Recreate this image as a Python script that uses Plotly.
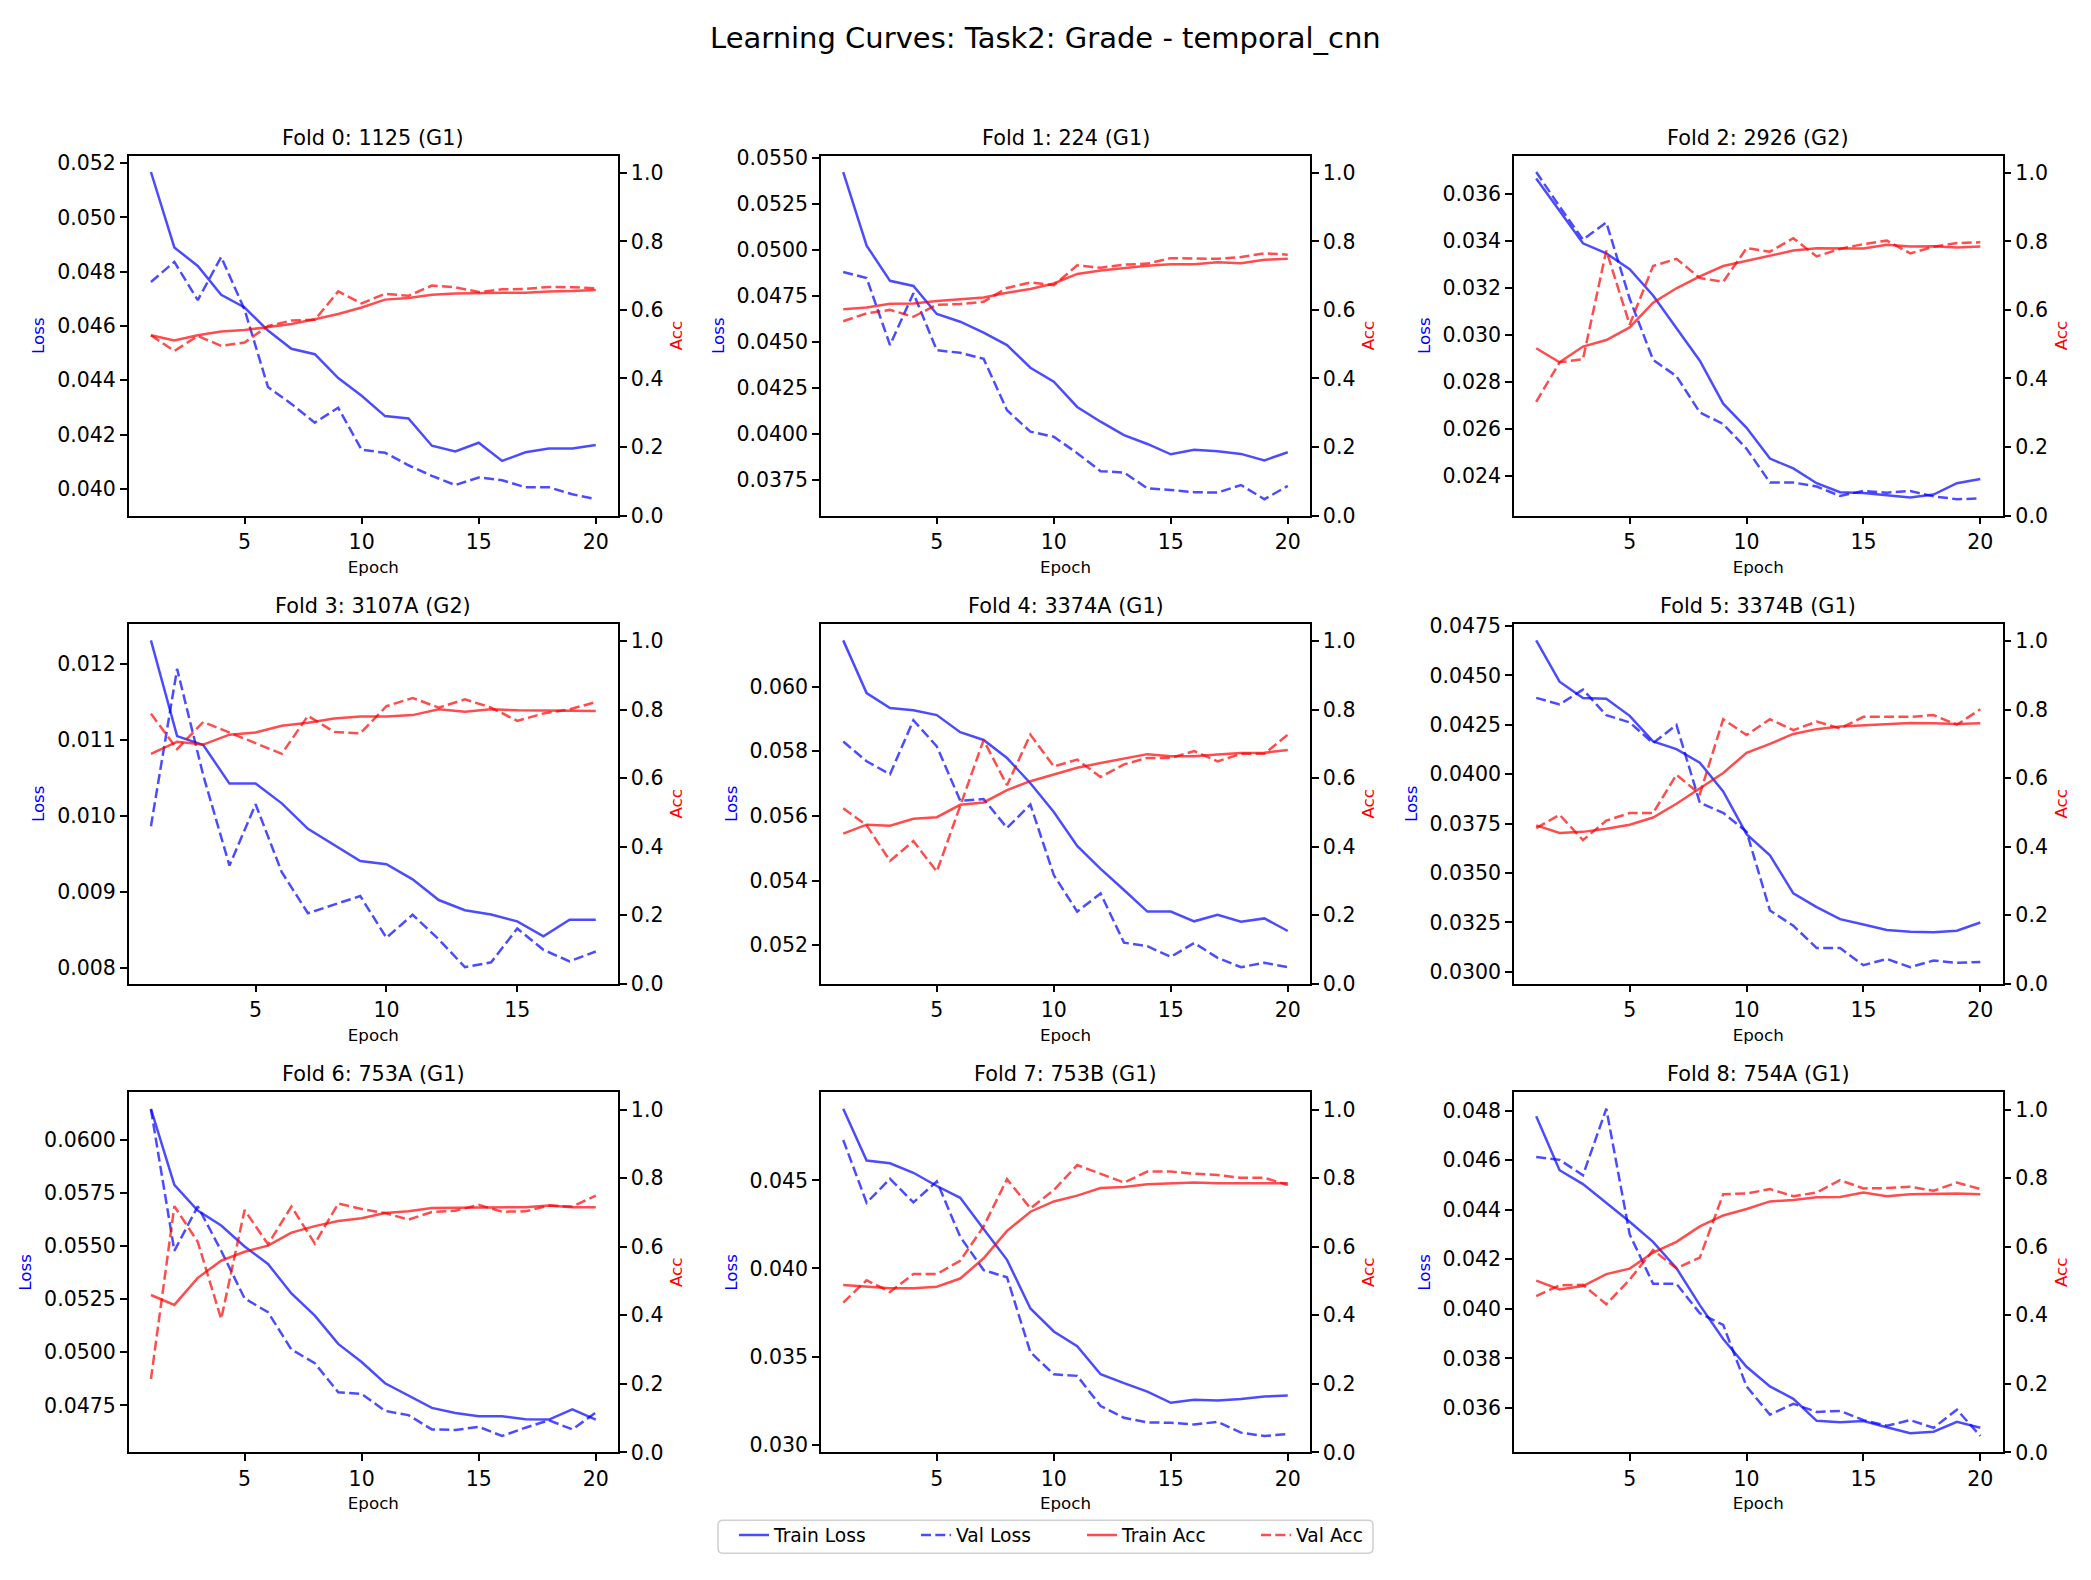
import plotly.graph_objects as go

# ---------------- data ----------------
fold_titles = ["Fold 0: 1125 (G1)", "Fold 1: 224 (G1)", "Fold 2: 2926 (G2)",
               "Fold 3: 3107A (G2)", "Fold 4: 3374A (G1)", "Fold 5: 3374B (G1)",
               "Fold 6: 753A (G1)", "Fold 7: 753B (G1)", "Fold 8: 754A (G1)"]

f0_train_loss = [0.05167, 0.04889, 0.04821, 0.04715, 0.04668, 0.04583, 0.04516, 0.04496, 0.04408, 0.04343,
                 0.04268, 0.04259, 0.04159, 0.04138, 0.04170, 0.04103, 0.04135, 0.04149, 0.04149, 0.04162]
f0_val_loss = [0.04762, 0.04836, 0.04695, 0.04854, 0.04660, 0.04375, 0.04313, 0.04244, 0.04299, 0.04144,
               0.04133, 0.04087, 0.04048, 0.04014, 0.04042, 0.04032, 0.04006, 0.04006, 0.03980, 0.03962]
f0_train_acc = [0.526, 0.511, 0.526, 0.537, 0.541, 0.551, 0.559, 0.573, 0.588, 0.607,
                0.630, 0.635, 0.644, 0.648, 0.650, 0.650, 0.650, 0.654, 0.655, 0.658]
f0_val_acc = [0.526, 0.480, 0.524, 0.495, 0.505, 0.553, 0.569, 0.571, 0.654, 0.619,
              0.647, 0.641, 0.671, 0.666, 0.652, 0.660, 0.661, 0.667, 0.666, 0.663]

f1_train_loss = [0.05423, 0.05023, 0.04832, 0.04804, 0.04652, 0.04610, 0.04551, 0.04483, 0.04360, 0.04284,
                 0.04147, 0.04067, 0.03994, 0.03946, 0.03890, 0.03914, 0.03906, 0.03892, 0.03857, 0.03901]
f1_val_loss = [0.04880, 0.04847, 0.04483, 0.04765, 0.04455, 0.04441, 0.04409, 0.04129, 0.04013, 0.03985,
               0.03896, 0.03798, 0.03791, 0.03705, 0.03696, 0.03684, 0.03682, 0.03723, 0.03646, 0.03718]
f1_train_acc = [0.602, 0.607, 0.618, 0.619, 0.626, 0.632, 0.636, 0.650, 0.661, 0.677,
                0.705, 0.715, 0.722, 0.729, 0.733, 0.733, 0.739, 0.736, 0.746, 0.749]
f1_val_acc = [0.567, 0.590, 0.600, 0.580, 0.615, 0.617, 0.624, 0.664, 0.680, 0.672,
              0.730, 0.723, 0.732, 0.735, 0.751, 0.749, 0.749, 0.754, 0.765, 0.761]

f2_train_loss = [0.03666, 0.03526, 0.03390, 0.03347, 0.03280, 0.03168, 0.03027, 0.02890, 0.02707, 0.02604,
                 0.02473, 0.02431, 0.02368, 0.02330, 0.02326, 0.02316, 0.02307, 0.02320, 0.02368, 0.02386]
f2_val_loss = [0.03694, 0.03547, 0.03406, 0.03479, 0.03154, 0.02894, 0.02824, 0.02670, 0.02620, 0.02515,
               0.02371, 0.02371, 0.02354, 0.02314, 0.02335, 0.02328, 0.02335, 0.02312, 0.02300, 0.02303]
f2_train_acc = [0.488, 0.447, 0.493, 0.512, 0.549, 0.621, 0.663, 0.698, 0.728, 0.743,
                0.760, 0.773, 0.780, 0.780, 0.779, 0.790, 0.785, 0.786, 0.782, 0.785]
f2_val_acc = [0.332, 0.447, 0.456, 0.773, 0.557, 0.728, 0.749, 0.693, 0.682, 0.780,
              0.770, 0.809, 0.756, 0.778, 0.792, 0.802, 0.765, 0.784, 0.795, 0.797]

f3_train_loss = [0.012315, 0.011054, 0.010937, 0.010428, 0.010428, 0.010168, 0.009832, 0.009616, 0.009408,
                 0.009365, 0.009166, 0.008894, 0.008760, 0.008704, 0.008613, 0.008415, 0.008635, 0.008635]
f3_val_loss = [0.009866, 0.011940, 0.010536, 0.009348, 0.010156, 0.009261, 0.008721, 0.008829, 0.008946,
               0.008397, 0.008700, 0.008376, 0.008009, 0.008073, 0.008518, 0.008238, 0.008086, 0.008216]
f3_train_acc = [0.671, 0.706, 0.698, 0.727, 0.733, 0.753, 0.762, 0.774, 0.780,
                0.780, 0.784, 0.801, 0.794, 0.801, 0.798, 0.798, 0.796, 0.796]
f3_val_acc = [0.788, 0.685, 0.764, 0.733, 0.703, 0.671, 0.782, 0.735, 0.731,
              0.810, 0.834, 0.806, 0.830, 0.806, 0.767, 0.789, 0.801, 0.822]

f4_train_loss = [0.06143, 0.05980, 0.05934, 0.05927, 0.05912, 0.05859, 0.05835, 0.05779, 0.05701, 0.05612,
                 0.05507, 0.05436, 0.05371, 0.05304, 0.05304, 0.05274, 0.05294, 0.05273, 0.05283, 0.05244]
f4_val_loss = [0.05830, 0.05769, 0.05729, 0.05896, 0.05815, 0.05647, 0.05652, 0.05563, 0.05635, 0.05417,
               0.05304, 0.05360, 0.05208, 0.05197, 0.05164, 0.05207, 0.05161, 0.05132, 0.05146, 0.05132]
f4_train_acc = [0.438, 0.464, 0.461, 0.481, 0.486, 0.522, 0.529, 0.565, 0.591, 0.611,
                0.630, 0.644, 0.656, 0.670, 0.664, 0.664, 0.669, 0.673, 0.674, 0.682]
f4_val_acc = [0.512, 0.462, 0.358, 0.416, 0.327, 0.522, 0.711, 0.579, 0.727, 0.634,
              0.654, 0.603, 0.640, 0.659, 0.659, 0.679, 0.649, 0.671, 0.671, 0.727]

f5_train_loss = [0.04677, 0.04468, 0.04385, 0.04381, 0.04295, 0.04166, 0.04127, 0.04058, 0.03913, 0.03696,
                 0.03589, 0.03397, 0.03327, 0.03266, 0.03239, 0.03211, 0.03203, 0.03200, 0.03208, 0.03249]
f5_val_loss = [0.04386, 0.04353, 0.04428, 0.04298, 0.04262, 0.04157, 0.04249, 0.03855, 0.03804, 0.03709,
               0.03310, 0.03233, 0.03120, 0.03120, 0.03033, 0.03065, 0.03023, 0.03057, 0.03045, 0.03050]
f5_train_acc = [0.462, 0.440, 0.443, 0.452, 0.464, 0.485, 0.525, 0.570, 0.615, 0.674,
                0.700, 0.729, 0.743, 0.751, 0.755, 0.758, 0.761, 0.760, 0.758, 0.760]
f5_val_acc = [0.454, 0.493, 0.419, 0.476, 0.498, 0.498, 0.610, 0.553, 0.772, 0.726,
              0.772, 0.740, 0.765, 0.745, 0.779, 0.779, 0.779, 0.784, 0.756, 0.801]

f6_train_loss = [0.06145, 0.05787, 0.05666, 0.05596, 0.05497, 0.05415, 0.05276, 0.05172, 0.05039, 0.04954,
                 0.04854, 0.04796, 0.04738, 0.04714, 0.04699, 0.04699, 0.04685, 0.04683, 0.04731, 0.04683]
f6_val_loss = [0.06142, 0.05477, 0.05686, 0.05477, 0.05253, 0.05188, 0.05013, 0.04948, 0.04812, 0.04804,
               0.04724, 0.04704, 0.04637, 0.04634, 0.04649, 0.04606, 0.04645, 0.04680, 0.04637, 0.04716]
f6_train_acc = [0.459, 0.430, 0.509, 0.559, 0.585, 0.603, 0.641, 0.660, 0.675, 0.683,
                0.698, 0.703, 0.713, 0.713, 0.713, 0.715, 0.715, 0.720, 0.715, 0.715]
f6_val_acc = [0.214, 0.718, 0.614, 0.389, 0.707, 0.607, 0.717, 0.609, 0.726, 0.710,
              0.698, 0.679, 0.701, 0.705, 0.722, 0.702, 0.703, 0.720, 0.717, 0.749]

f7_train_loss = [0.04906, 0.04612, 0.04597, 0.04543, 0.04468, 0.04401, 0.04224, 0.04049, 0.03773, 0.03643,
                 0.03559, 0.03400, 0.03350, 0.03302, 0.03238, 0.03255, 0.03251, 0.03260, 0.03274, 0.03280]
f7_val_loss = [0.04729, 0.04373, 0.04509, 0.04375, 0.04494, 0.04180, 0.03991, 0.03950, 0.03525, 0.03400,
               0.03391, 0.03220, 0.03153, 0.03127, 0.03125, 0.03115, 0.03130, 0.03069, 0.03050, 0.03061]
f7_train_acc = [0.488, 0.483, 0.479, 0.479, 0.483, 0.507, 0.566, 0.646, 0.702, 0.732,
                0.749, 0.771, 0.774, 0.782, 0.785, 0.787, 0.785, 0.785, 0.787, 0.785]
f7_val_acc = [0.437, 0.502, 0.468, 0.520, 0.520, 0.559, 0.659, 0.797, 0.712, 0.765,
              0.838, 0.813, 0.787, 0.819, 0.819, 0.813, 0.809, 0.801, 0.801, 0.780]

f8_train_loss = [0.04777, 0.04559, 0.04503, 0.04426, 0.04351, 0.04270, 0.04164, 0.04015, 0.03878, 0.03766,
                 0.03687, 0.03637, 0.03548, 0.03542, 0.03547, 0.03522, 0.03498, 0.03504, 0.03544, 0.03520]
f8_val_loss = [0.04612, 0.04601, 0.04539, 0.04807, 0.04300, 0.04101, 0.04101, 0.03982, 0.03935, 0.03687,
               0.03573, 0.03617, 0.03584, 0.03588, 0.03551, 0.03528, 0.03551, 0.03520, 0.03593, 0.03487]
f8_train_acc = [0.501, 0.475, 0.485, 0.520, 0.536, 0.583, 0.614, 0.659, 0.691, 0.710,
                0.732, 0.736, 0.744, 0.745, 0.758, 0.747, 0.753, 0.755, 0.755, 0.753]
f8_val_acc = [0.456, 0.487, 0.489, 0.432, 0.504, 0.590, 0.537, 0.568, 0.753, 0.755,
              0.768, 0.747, 0.758, 0.794, 0.770, 0.771, 0.775, 0.763, 0.787, 0.768]

loss_tick_step = [0.002, 0.0025, 0.002, 0.001, 0.002, 0.0025, 0.0025, 0.005, 0.002]
loss_tick_fmt = [".3f", ".4f", ".3f", ".3f", ".3f", ".4f", ".4f", ".3f", ".3f"]
epoch_ticks = [5, 10, 15, 20]
acc_ticks = [0.0, 0.2, 0.4, 0.6, 0.8, 1.0]

train_losses = [f0_train_loss, f1_train_loss, f2_train_loss, f3_train_loss, f4_train_loss,
                f5_train_loss, f6_train_loss, f7_train_loss, f8_train_loss]
val_losses = [f0_val_loss, f1_val_loss, f2_val_loss, f3_val_loss, f4_val_loss,
              f5_val_loss, f6_val_loss, f7_val_loss, f8_val_loss]
train_accs = [f0_train_acc, f1_train_acc, f2_train_acc, f3_train_acc, f4_train_acc,
              f5_train_acc, f6_train_acc, f7_train_acc, f8_train_acc]
val_accs = [f0_val_acc, f1_val_acc, f2_val_acc, f3_val_acc, f4_val_acc,
            f5_val_acc, f6_val_acc, f7_val_acc, f8_val_acc]

# ---------------- layout geometry ----------------
W, H = 2091, 1580
FONT = "DejaVu Sans"
BLUE = "rgba(0,0,255,0.7)"
RED = "rgba(255,0,0,0.7)"
DASH = "10px,4.3px"
col_px = [(128.7, 618.0), (821.0, 1310.0), (1514.0, 2002.5)]
row_px = [(147.7, 512.7), (622.7, 987.3), (1097.7, 1462.7)]

fig = go.Figure()
layout = dict(
    width=W, height=H, margin=dict(l=0, r=0, t=0, b=0),
    paper_bgcolor="white", plot_bgcolor="white",
    font=dict(family=FONT, color="black"),
    showlegend=True,
)
annotations = []
axis_common = dict(showgrid=False, zeroline=False, showline=True, linecolor="black", linewidth=1.5,
                   ticks="outside", ticklen=7, tickwidth=1.5, tickcolor="black",
                   tickfont=dict(family=FONT, size=20.5, color="black"))

legend_names = ["Train Loss", "Val Loss", "Train Acc", "Val Acc"]
legend_ids = ["legend", "legend2", "legend3", "legend4"]

for i in range(9):
    r, c = divmod(i, 3)
    n = len(train_losses[i])
    ep = list(range(1, n + 1))
    xs = "" if i == 0 else str(i + 1)
    yl = "" if i == 0 else str(2 * i + 1)
    ya = str(2 * i + 2)
    xd = [col_px[c][0] / W, col_px[c][1] / W]
    yd = [1 - row_px[r][1] / H, 1 - row_px[r][0] / H]

    lo = min(min(train_losses[i]), min(val_losses[i]))
    hi = max(max(train_losses[i]), max(val_losses[i]))
    pad = 0.05 * (hi - lo)
    xpad = 0.05 * (n - 1)

    layout["xaxis" + xs] = dict(axis_common, domain=xd, anchor="y" + yl, range=[1 - xpad, n + xpad],
                                tickmode="array", tickvals=[t for t in epoch_ticks if t <= n], mirror=True,
                                title=dict(text="Epoch", font=dict(size=16.7, color="black"), standoff=8))
    layout["yaxis" + yl] = dict(axis_common, domain=yd, anchor="x" + xs, range=[lo - pad, hi + pad],
                                tickmode="linear", tick0=0, dtick=loss_tick_step[i], tickformat=loss_tick_fmt[i],
                                title=dict(text="Loss", font=dict(size=16.7, color="blue"), standoff=8))
    layout["yaxis" + ya] = dict(axis_common, domain=yd, anchor="x" + xs, overlaying="y" + yl, side="right",
                                range=[0, 1.05], tickmode="array", tickvals=acc_ticks, tickformat=".1f",
                                title=dict(text="Acc", font=dict(size=16.7, color="red"), standoff=8))

    series = [(train_losses[i], BLUE, "solid", "y" + yl), (val_losses[i], BLUE, DASH, "y" + yl),
              (train_accs[i], RED, "solid", "y" + ya), (val_accs[i], RED, DASH, "y" + ya)]
    for k, (vals, col, dash, yref) in enumerate(series):
        fig.add_trace(go.Scatter(x=ep, y=vals, mode="lines", name=legend_names[k],
                                 line=dict(color=col, width=2.5, dash=dash),
                                 xaxis="x" + xs, yaxis=yref,
                                 showlegend=(i == 0), legend=legend_ids[k]))

    annotations.append(dict(text=fold_titles[i], xref="paper", yref="paper",
                            x=(xd[0] + xd[1]) / 2, y=yd[1], xanchor="center", yanchor="middle",
                            yshift=18, showarrow=False, font=dict(size=20.8, color="black")))

annotations.append(dict(text="Learning Curves: Task2: Grade - temporal_cnn", xref="paper", yref="paper",
                        x=0.5, y=1 - 28 / H, xanchor="center", yanchor="middle", showarrow=False,
                        font=dict(size=29, color="black")))
layout["annotations"] = annotations

# legend entries (text start positions in px)
text_px = [778, 960, 1126, 1300]
legend_y = 1 - 1547 / H
for k, lid in enumerate(legend_ids):
    layout[lid] = dict(x=(text_px[k] - 44) / W, xanchor="left", y=legend_y, yanchor="middle",
                       orientation="h", bgcolor="rgba(0,0,0,0)", borderwidth=0,
                       font=dict(family=FONT, size=18.7, color="black"))

# legend frame (rounded rectangle)
x0, x1, y0, y1, rad = 718, 1373, 1531.5, 1565, 5
def px(x):
    return x / W
def py(y):
    return 1 - y / H
path = (f"M {px(x0+rad)},{py(y0)} L {px(x1-rad)},{py(y0)} Q {px(x1)},{py(y0)} {px(x1)},{py(y0+rad)} "
        f"L {px(x1)},{py(y1-rad)} Q {px(x1)},{py(y1)} {px(x1-rad)},{py(y1)} "
        f"L {px(x0+rad)},{py(y1)} Q {px(x0)},{py(y1)} {px(x0)},{py(y1-rad)} "
        f"L {px(x0)},{py(y0+rad)} Q {px(x0)},{py(y0)} {px(x0+rad)},{py(y0)} Z")
layout["shapes"] = [dict(type="path", path=path, xref="paper", yref="paper",
                         line=dict(color="#d0d0d0", width=1.5), fillcolor="rgba(255,255,255,0.8)",
                         layer="below")]

fig.update_layout(**layout)
fig.write_html("out.html",
               post_script="document.body.style.margin='0';document.body.style.padding='0';"
                           "document.body.style.overflow='hidden';")
